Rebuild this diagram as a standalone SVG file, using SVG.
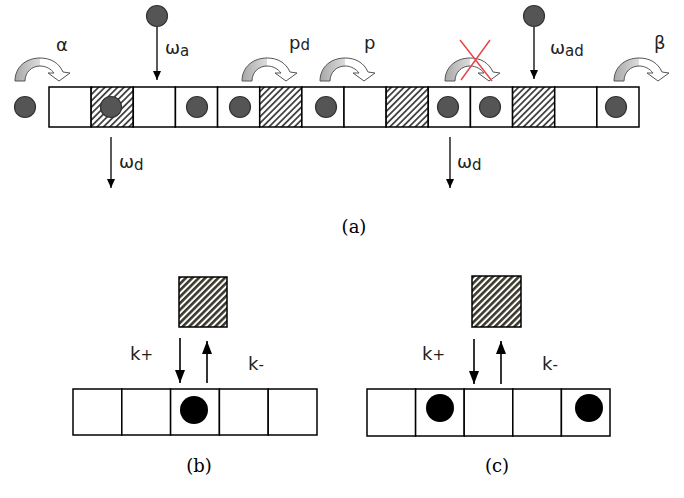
<svg xmlns="http://www.w3.org/2000/svg" width="684" height="498" viewBox="0 0 684 498">
<style>
.cell{fill:#fff;stroke:#000;stroke-width:1.5}
.hatch1{fill:url(#h1);stroke:#000;stroke-width:1.5}
.hatch2{fill:url(#h2);stroke:#000;stroke-width:1.5}
.pt{fill:#555;stroke:#333;stroke-width:1.2}
.pb{fill:#000}
.lbl{font-family:"DejaVu Sans",Verdana,sans-serif;font-size:18px;fill:#222}
.sub{font-size:15px}
.cap{font-family:"DejaVu Serif","Liberation Serif",serif;font-size:18px;fill:#000;text-anchor:middle}
.ln{stroke:#000;stroke-width:1.3;fill:none}
.ln2{stroke:#000;stroke-width:1.6;fill:none}
</style>
<defs>
<pattern id="h1" patternUnits="userSpaceOnUse" width="4.5" height="4.5" patternTransform="rotate(45)">
<rect width="4.5" height="4.5" fill="#fff"/>
<rect width="1.8" height="4.5" fill="#444"/>
</pattern>
<pattern id="h2" patternUnits="userSpaceOnUse" width="4.6" height="4.6" patternTransform="rotate(45)">
<rect width="4.6" height="4.6" fill="#fff"/>
<rect width="2.6" height="4.6" fill="#3b392c"/>
</pattern>
<linearGradient id="gg" x1="0" y1="0" x2="1" y2="0">
<stop offset="0" stop-color="#a8a8a8"/>
<stop offset="1" stop-color="#dcdcdc"/>
</linearGradient>
<marker id="ah" markerWidth="9" markerHeight="8" refX="9" refY="4" orient="auto" markerUnits="userSpaceOnUse" viewBox="0 0 9 8">
<path d="M0,0 L9,4 L0,8 Z" fill="#000"/>
</marker>
<marker id="ahB" markerWidth="13" markerHeight="10" refX="13" refY="5" orient="auto" markerUnits="userSpaceOnUse" viewBox="0 0 13 10">
<path d="M0,0 L13,5 L0,10 Z" fill="#000"/>
</marker>
<g id="carrow">
<path d="M0,0 L10,0 C10,-9 17,-15 25,-15 C31,-15 36,-12 39,-8 L33,-8 L44,0 L55,-8 L48,-9 C44,-18 36,-23 25,-23 C11,-23 0,-14 0,0 Z" fill="#fff"/>
<path d="M0,0 L10,0 C10,-9 17,-15 25,-15 L25,-23 C11,-23 0,-14 0,0 Z" fill="url(#gg)"/>
<path d="M0,0 L10,0 C10,-9 17,-15 25,-15 C31,-15 36,-12 39,-8 L33,-8 L44,0 L55,-8 L48,-9 C44,-18 36,-23 25,-23 C11,-23 0,-14 0,0 Z" fill="none" stroke="#555" stroke-width="1"/>
</g>
</defs>
<rect width="684" height="498" fill="#fff"/>

<g id="lattice-a">
<rect class="cell" x="49" y="87" width="42.14" height="40"/>
<rect class="hatch1" x="91.14" y="87" width="42.14" height="40"/>
<rect class="cell" x="133.29" y="87" width="42.14" height="40"/>
<rect class="cell" x="175.43" y="87" width="42.14" height="40"/>
<rect class="cell" x="217.57" y="87" width="42.14" height="40"/>
<rect class="hatch1" x="259.71" y="87" width="42.14" height="40"/>
<rect class="cell" x="301.86" y="87" width="42.14" height="40"/>
<rect class="cell" x="344" y="87" width="42.14" height="40"/>
<rect class="hatch1" x="386.14" y="87" width="42.14" height="40"/>
<rect class="cell" x="428.29" y="87" width="42.14" height="40"/>
<rect class="cell" x="470.43" y="87" width="42.14" height="40"/>
<rect class="hatch1" x="512.57" y="87" width="42.14" height="40"/>
<rect class="cell" x="554.71" y="87" width="42.14" height="40"/>
<rect class="cell" x="596.86" y="87" width="42.14" height="40"/>
</g>
<g id="particles-a">
<circle class="pt" cx="25" cy="107" r="10.5"/>
<circle class="pt" cx="111" cy="107" r="10.5"/>
<circle class="pt" cx="197" cy="107" r="10.5"/>
<circle class="pt" cx="240" cy="107" r="10.5"/>
<circle class="pt" cx="326" cy="107" r="10.5"/>
<circle class="pt" cx="448" cy="107" r="10.5"/>
<circle class="pt" cx="490" cy="107" r="10.5"/>
<circle class="pt" cx="616" cy="107" r="10.5"/>
<circle class="pt" cx="157" cy="16" r="10.5"/>
<circle class="pt" cx="534" cy="16" r="10.5"/>
</g>
<g id="hops-a">
<use href="#carrow" x="15" y="81"/>
<use href="#carrow" x="242" y="81"/>
<use href="#carrow" x="320" y="81"/>
<use href="#carrow" x="445" y="81"/>
<use href="#carrow" x="614" y="81"/>
<path d="M460,40 L492,81 M490,40 L461,80" stroke="#e8474a" stroke-width="1.5" fill="none"/>
</g>
<g id="connectors">
<line class="ln" x1="157" y1="27" x2="157" y2="80" marker-end="url(#ah)"/>
<line class="ln" x1="534" y1="27" x2="534" y2="79" marker-end="url(#ah)"/>
<line class="ln" x1="111" y1="137" x2="111" y2="188" marker-end="url(#ah)"/>
<line class="ln" x1="450" y1="137" x2="450" y2="188" marker-end="url(#ah)"/>
<line class="ln2" x1="180" y1="338" x2="180" y2="383" marker-end="url(#ahB)"/>
<line class="ln2" x1="207" y1="383" x2="207" y2="341" marker-end="url(#ahB)"/>
<line class="ln2" x1="474" y1="339" x2="474" y2="384" marker-end="url(#ahB)"/>
<line class="ln2" x1="501" y1="384" x2="501" y2="341" marker-end="url(#ahB)"/>
</g>
<g id="labels-a">
<text class="lbl" x="56" y="51">α</text>
<text class="lbl" x="165" y="54">ω<tspan class="sub" dy="2">a</tspan></text>
<text class="lbl" x="289" y="49">p<tspan class="sub" dy="1">d</tspan></text>
<text class="lbl" x="364" y="49">p</text>
<text class="lbl" x="550" y="54">ω<tspan class="sub" dy="2">ad</tspan></text>
<text class="lbl" x="654" y="49">β</text>
<text class="lbl" x="119" y="168">ω<tspan class="sub" dy="2">d</tspan></text>
<text class="lbl" x="457" y="168">ω<tspan class="sub" dy="2">d</tspan></text>
<text class="cap" x="354" y="233">(a)</text>
</g>

<g id="panel-b">
<rect class="hatch2" x="179" y="277" width="48" height="50"/>
<rect class="cell" x="73" y="389" width="48.8" height="46"/>
<rect class="cell" x="121.8" y="389" width="48.8" height="46"/>
<rect class="cell" x="170.6" y="389" width="48.8" height="46"/>
<rect class="cell" x="219.4" y="389" width="48.8" height="46"/>
<rect class="cell" x="268.2" y="389" width="48.8" height="46"/>
<circle class="pb" cx="194" cy="410" r="14"/>
<text class="lbl" x="130" y="360">k<tspan class="sub">+</tspan></text>
<text class="lbl" x="248" y="370">k<tspan class="sub">-</tspan></text>
<text class="cap" x="199" y="472">(b)</text>
</g>

<g id="panel-c">
<rect class="hatch2" x="472" y="276" width="49" height="51"/>
<rect class="cell" x="367" y="389" width="48.6" height="47"/>
<rect class="cell" x="415.6" y="389" width="48.6" height="47"/>
<rect class="cell" x="464.2" y="389" width="48.6" height="47"/>
<rect class="cell" x="512.8" y="389" width="48.6" height="47"/>
<rect class="cell" x="561.4" y="389" width="48.6" height="47"/>
<circle class="pb" cx="440" cy="408" r="14"/>
<circle class="pb" cx="589" cy="408" r="14"/>
<text class="lbl" x="422" y="360">k<tspan class="sub">+</tspan></text>
<text class="lbl" x="542" y="370">k<tspan class="sub">-</tspan></text>
<text class="cap" x="497" y="472">(c)</text>
</g>
</svg>
